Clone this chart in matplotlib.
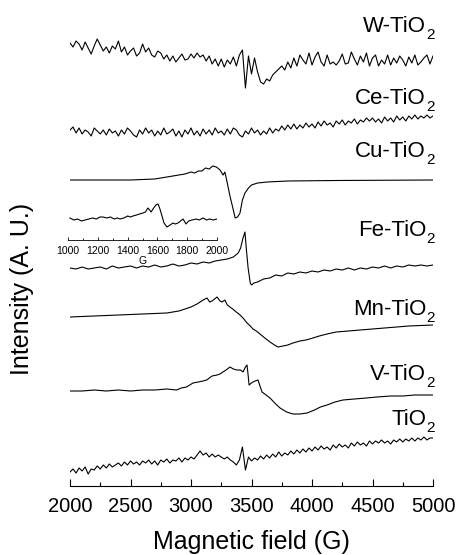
import matplotlib
matplotlib.use("Agg")
import matplotlib.pyplot as plt
import numpy as np
from matplotlib.ticker import MultipleLocator

plt.rcParams['font.family'] = ['Liberation Sans', 'DejaVu Sans']

# ---- data (intensity in arbitrary units) ----
samples = ['W-TiO', 'Ce-TiO', 'Cu-TiO', 'Fe-TiO', 'Mn-TiO', 'V-TiO', 'TiO']
offsets = [512, 425, 375, 287, 238, 164, 83]

field_grid = np.arange(2000, 5001, 25)

w_sig = [0, -4, 2, -1, -7, 1, -5, -11, -3, 4, -2, -8, -4, -10, -3, -6, 2, -9, -4, -12, -8, -5, -13, -10, -1,
         -9, -5, -12, -14, -8, -10, -16, -12, -18, -13, -19, -15, -11, -17, -16, -11, -15, -10, -14, -12, -18, -13, -21, -16, -23,
         -16, -24, -17, -21, -14, -23, -12, -7, -45, -13, -31, -15, -29, -39, -41, -36, -38, -32, -29, -26, -23, -27, -19, -25, -15,
         -23, -12, -17, -21, -10, -22, -14, -9, -19, -23, -12, -21, -19, -22, -18, -11, -21, -20, -9, -16, -22, -13, -19, -10, -23,
         -15, -12, -23, -17, -21, -12, -22, -15, -20, -13, -17, -23, -14, -20, -12, -22, -19, -15, -12, -21, -13]

ce_sig = [0, 3, -3, 2, -4, 0, -2, -6, 2, -1, -4, 0, -5, 1, -3, -1, -6, 0, -4, 2, -1, -5, -7, 0, -4,
          2, -3, 0, -6, -1, -5, 2, -4, -2, 1, -6, -1, -7, 0, -4, 2, -5, -1, -6, 1, -4, 0, -5, 2, -3,
          -1, -5, 1, -4, 2, 0, -5, -7, -1, -4, 2, -3, 0, -5, -1, -4, 2, -3, 1, -1, 4, 0, 5, 1, 6,
          1, 5, 2, 7, 3, 6, 2, 8, 4, 9, 5, 7, 3, 9, 6, 10, 5, 9, 7, 11, 6, 10, 8, 12, 9,
          12, 8, 11, 7, 13, 9, 12, 8, 14, 10, 13, 9, 14, 11, 15, 11, 14, 12, 15, 12, 14]

tio2_sig = [0, 3, -1, 4, 1, 5, -2, 3, 2, 6, 3, 7, 4, 8, 5, 7, 9, 6, 10, 7, 11, 8, 10, 7, 11,
            9, 12, 8, 11, 7, 12, 10, 13, 9, 12, 11, 14, 10, 14, 12, 15, 13, 17, 21, 17, 19, 15, 18, 15, 17,
            15, 13, 15, 12, 10, 7, 12, 25, 2, 15, 11, 14, 12, 16, 13, 17, 14, 18, 15, 20, 16, 19, 17, 21, 18,
            22, 19, 23, 20, 24, 21, 25, 22, 26, 23, 25, 22, 27, 24, 28, 25, 27, 24, 29, 26, 30, 27, 29, 26, 31,
            28, 31, 29, 32, 29, 31, 28, 32, 30, 33, 30, 33, 31, 34, 31, 34, 32, 35, 32, 34, 34]

cu_field = [2000, 2500, 2700, 2750, 2800, 2850, 2900, 2950, 3000, 3030, 3060, 3090, 3120, 3150, 3180, 3210,
            3240, 3265, 3280, 3300, 3320, 3340, 3365, 3385, 3405, 3425, 3446, 3475, 3500, 3550, 3630, 3800, 4200, 5000]
cu_sig = [0, 0, 1, 2, 3, 4, 5, 6, 8, 7, 9, 9, 12, 11, 14, 13,
          10, 5, 8, -3, -15, -25, -38, -37, -33, -20, -13, -8, -5, -3, -2, -1, -0.5, 0]

fe_field = list(range(2000, 3351, 50)) + [3390, 3410, 3430, 3446, 3458, 3472, 3490, 3500, 3520, 3550] + list(range(3600, 5001, 50))
fe_sig = [0, -1, 1, -1, 0, 1, -1, 2, 0, 1, 2, 0, 2, 1, 3, 1, 2, 4, 2, 3, 5, 4, 6, 5, 7, 8, 9, 11,
          15, 20, 30, 36, 18, 0, -15, -17, -15, -14,
          -11, -10, -7, -8, -5, -6, -4, -5, -3, -4, -2, -3, -1, -2, 0, -2, 0, -1, 1, 0, 2, 0, 2, 1, 3, 2, 3, 2, 3]

mn_field = [2000, 2200, 2400, 2600, 2800, 2900, 3000, 3050, 3075, 3100, 3132, 3155, 3174, 3195, 3215, 3240, 3256,
            3280, 3300, 3322, 3345, 3364, 3385, 3405, 3430, 3463, 3490, 3512, 3540, 3570, 3610, 3653, 3690, 3719,
            3760, 3800, 3843, 3900, 3950, 4008, 4060, 4124, 4200, 4300, 4397, 4500, 4600, 4700, 4800, 4900, 5000]
mn_sig = [0, 1, 2, 3, 4, 6, 10, 13, 15, 17, 19, 15, 16, 18, 20, 16, 15,
          17, 12, 10, 8, 6, 4, 2, -1, -6, -9, -12, -14, -17, -21, -25, -28, -30,
          -29, -28, -26, -24, -23, -21, -19, -17, -15, -14, -13, -12, -11, -10, -9, -8.5, -8]

v_field = [2000, 2100, 2200, 2300, 2400, 2500, 2600, 2700, 2800, 2880, 2920, 2962, 3017, 3060, 3100, 3130, 3174,
           3215, 3240, 3264, 3290, 3322, 3350, 3380, 3410, 3430, 3450, 3463, 3472, 3480, 3500, 3512, 3530, 3554,
           3570, 3587, 3620, 3653, 3700, 3736, 3790, 3843, 3900, 3959, 4020, 4070, 4124, 4190, 4256, 4350, 4450,
           4537, 4650, 4750, 4850, 5000]
v_sig = [0, 0, 1, 0, 1, 0, 1, 1, 2, 1, 3, 4, 8, 9, 10, 11, 15,
         16, 17, 19, 21, 24, 22, 21, 21, 19, 24, 26, 16, 6, 8, 9, 10, 11,
         5, -1, -4, -7, -13, -17, -21, -23, -23, -22, -19, -16, -14, -11, -9, -8, -7,
         -6, -5, -5, -4, -4]

# inset: low field region
inset_field = [1013, 1040, 1065, 1090, 1114, 1140, 1165, 1190, 1215, 1235, 1260, 1285, 1310, 1330, 1349, 1375,
               1400, 1420, 1436, 1460, 1480, 1503, 1520, 1536, 1548, 1558, 1575, 1590, 1604, 1615, 1631, 1644,
               1664, 1685, 1705, 1720, 1738, 1755, 1772, 1792, 1810, 1832, 1860, 1880, 1906, 1930, 1950, 1975, 2000]
inset_sig = [1, -1, 0, -2, -1, 0, 1, 0, 2, 2, 1, 2, 0, 1, 0, 1,
             3, 2, 3, 4, 5, 6, 7, 11, 9, 7, 11, 14, 15, 11, 3, -4,
             -8, -6, -4, -5, -4, -2, 0, -5, -2, -1, 0, -1, 1, -1, 0, -1, 0]

label_y = [523, 451, 398, 319, 240, 175, 130]

traces = [(field_grid, w_sig), (field_grid, ce_sig), (cu_field, cu_sig), (fe_field, fe_sig),
          (mn_field, mn_sig), (v_field, v_sig), (field_grid, tio2_sig)]

# ---- figure ----
fig = plt.figure(figsize=(4.58, 5.55), dpi=100)
ax = fig.add_axes([70 / 458, 69 / 555, 363 / 458, 481 / 555])

for (fx, sig), off, name, ly in zip(traces, offsets, samples, label_y):
    ax.plot(fx, np.array(sig) + off, color='black', lw=0.8)
    # main text + a low-hanging subscript "2" like the original
    ax.annotate(name, xy=(5012, ly), xytext=(-6, 0), textcoords='offset points',
                ha='right', va='baseline', fontsize=16, annotation_clip=False)
    ax.annotate('2', xy=(5012, ly), xytext=(0, 3), textcoords='offset points',
                ha='right', va='top', fontsize=11, annotation_clip=False)

ax.set_xlim(2000, 5000)
ax.set_ylim(69, 550)
for s in ['top', 'right', 'left']:
    ax.spines[s].set_visible(False)
ax.spines['bottom'].set_linewidth(0.8)
ax.set_yticks([])
ax.xaxis.set_major_locator(MultipleLocator(500))
ax.xaxis.set_minor_locator(MultipleLocator(250))
ax.tick_params(axis='x', which='major', direction='in', length=5, width=0.8, labelsize=14.5, pad=8)
ax.tick_params(axis='x', which='minor', direction='in', length=3, width=0.8)
ax.set_xlabel('Magnetic field (G)', fontsize=18, labelpad=10)
fig.text(22 / 458, 1 - 289 / 555, 'Intensity (A. U.)', rotation=90, ha='center', va='center', fontsize=18)

# inset
ins = fig.add_axes([68 / 458, 1 - 240 / 555, 149 / 458, 45 / 555])
ins.patch.set_alpha(0)
ins.plot(inset_field, inset_sig, color='black', lw=0.8)
ins.set_xlim(1000, 2000)
ins.set_ylim(-21, 24)
for s in ['top', 'right', 'left']:
    ins.spines[s].set_visible(False)
ins.spines['bottom'].set_linewidth(0.6)
ins.set_yticks([])
ins.xaxis.set_major_locator(MultipleLocator(200))
ins.xaxis.set_minor_locator(MultipleLocator(100))
ins.tick_params(axis='x', which='major', direction='in', length=2.5, width=0.6, labelsize=7.5, pad=4)
ins.tick_params(axis='x', which='minor', direction='in', length=1.5, width=0.6)
ins.set_xlabel('G', fontsize=7.5, labelpad=0)

fig.savefig('out.png', dpi=100)
